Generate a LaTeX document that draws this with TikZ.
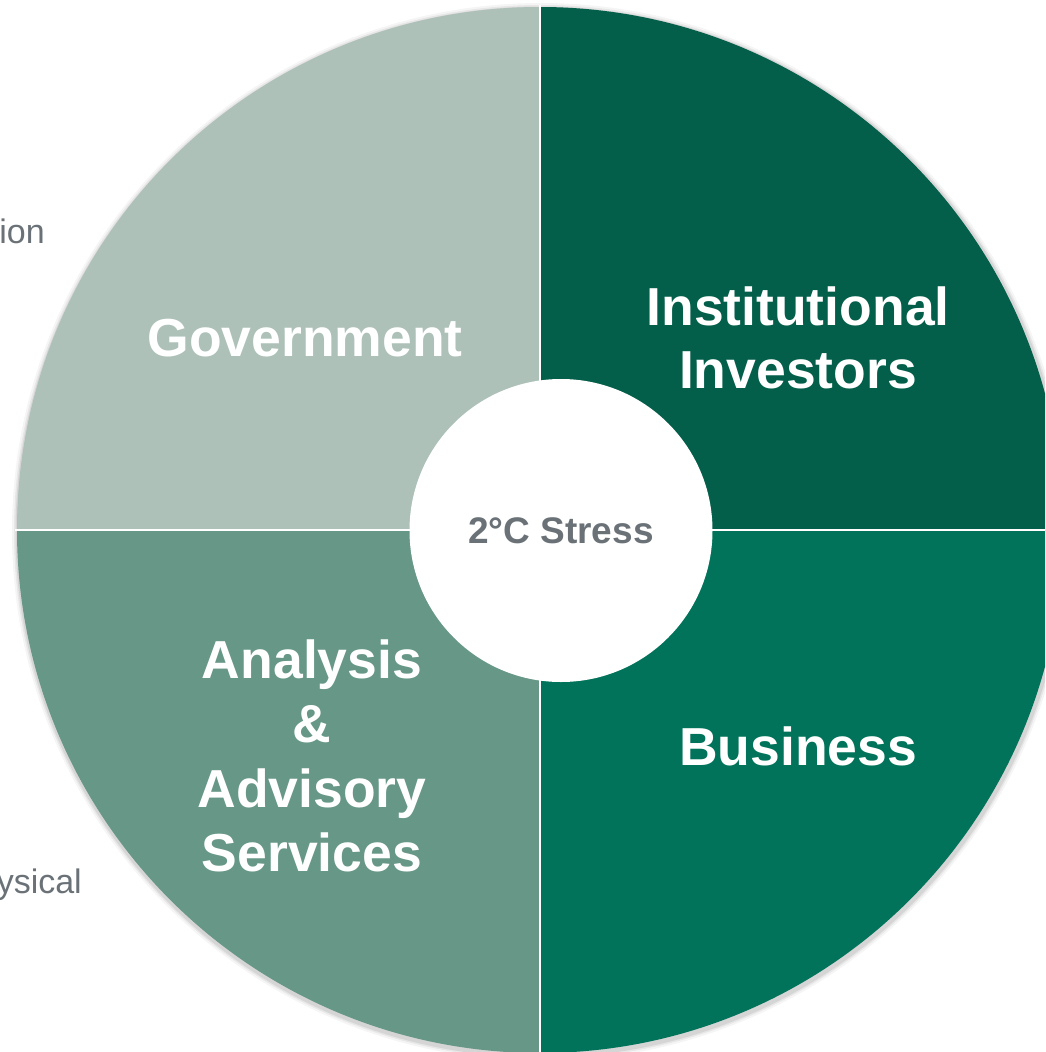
\documentclass[tikz,border=0pt]{standalone}
\usepackage{fontspec}
\setmainfont{Liberation Sans}
\definecolor{govfill}{HTML}{ADC1B8}
\definecolor{invfill}{HTML}{035E4A}
\definecolor{bizfill}{HTML}{00735A}
\definecolor{anafill}{HTML}{679786}
\definecolor{labelgray}{HTML}{6A7278}
\begin{document}
\begin{tikzpicture}[x=1pt,y=-1pt,
  quadlabel/.style={text=white,font=\bfseries\fontsize{53.5}{63}\selectfont,align=center,inner sep=0pt},
  sidetext/.style={text=labelgray,font=\fontsize{34}{38}\selectfont,inner sep=0pt,anchor=base east},
  divider/.style={white,line width=2.5pt}]
\useasboundingbox (0,0) rectangle (1045,1052);
\clip (0,0) rectangle (1045,1052);
\coordinate (c) at (540,530);
% soft shadow round the wheel
\foreach \r/\o in {529/0.04,527/0.06,525.5/0.08}
  \fill[black,opacity=\o] (541,532) circle[radius=\r];
% four quadrants
\begin{scope}
  \clip (0,0) rectangle (540,530);
  \fill[govfill] (c) circle[radius=523];
\end{scope}
\begin{scope}
  \clip (540,0) rectangle (1100,530);
  \fill[invfill] (c) circle[radius=523];
\end{scope}
\begin{scope}
  \clip (540,530) rectangle (1100,1100);
  \fill[bizfill] (c) circle[radius=523];
\end{scope}
\begin{scope}
  \clip (0,530) rectangle (540,1100);
  \fill[anafill] (c) circle[radius=523];
\end{scope}
% white dividers between the quadrants
\coordinate (top) at (540,5);
\coordinate (bot) at (540,1055);
\coordinate (lft) at (15,530);
\coordinate (rgt) at (1065,530);
\draw[divider] (top) -- (bot);
\draw[divider] (lft) -- (rgt);
% centre disc
\node[circle,fill=white,minimum size=303pt,inner sep=0pt] (hub) at (561,530.5) {};
\node[text=labelgray,font=\bfseries\fontsize{37}{40}\selectfont] (stress) at (hub.center) {2°C Stress};
% quadrant labels
\node[quadlabel] (gov) at (305,338) {Government};
\node[quadlabel] (inv) at (798,338) {Institutional\\Investors};
\node[quadlabel] (biz) at (798,746) {Business};
\node[quadlabel,font=\bfseries\fontsize{53.5}{64.5}\selectfont] (ana) at (312,756) {Analysis\\\&\\Advisory\\Services};
% text running in from the left margin
\node[sidetext] (frag1) at (45,243) {ion};
\node[sidetext] (frag2) at (82,893) {ysical};
\end{tikzpicture}
\end{document}
